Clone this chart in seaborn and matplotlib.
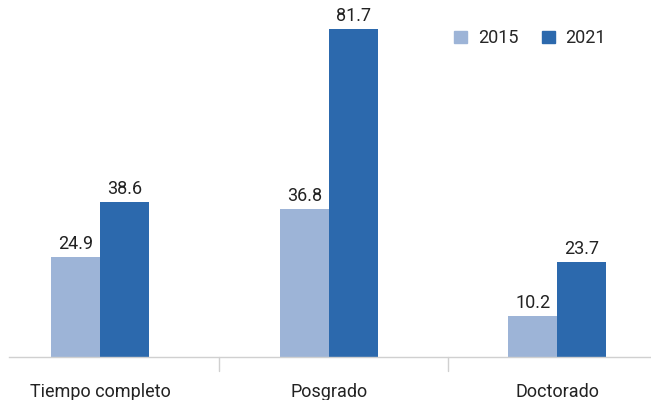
import matplotlib
matplotlib.use("Agg")
import matplotlib.pyplot as plt
import seaborn as sns
import pandas as pd
from matplotlib.patches import Patch

categories = ["Tiempo completo", "Posgrado", "Doctorado"]
years = ["2015", "2021"]
values_2015 = [24.9, 36.8, 10.2]
values_2021 = [38.6, 81.7, 23.7]
colors = ["#9db4d7", "#2c69ad"]

df = pd.DataFrame({
    "cat": categories * 2,
    "year": [years[0]] * 3 + [years[1]] * 3,
    "val": values_2015 + values_2021,
})

sns.set_theme(style="white")
plt.rcParams["font.family"] = ["Roboto", "DejaVu Sans"]

fig = plt.figure(figsize=(6.51, 4.0), dpi=100)
ax = fig.add_axes([0.0138, 0.1075, 0.9862, 0.8925])

sns.barplot(data=df, x="cat", y="val", hue="year", palette=colors,
            width=0.43, gap=0, saturation=1, ax=ax, legend=False,
            linewidth=0, edgecolor="none")

for cont in ax.containers:
    ax.bar_label(cont, fmt="%.1f", padding=3, fontsize=13, color="#222222")

ax.set_xlim(-0.4, 2.41)
ax.set_ylim(0, 88.9)
ax.set_xlabel("")
ax.set_ylabel("")
ax.set_yticks([])
for s in ["left", "right", "top"]:
    ax.spines[s].set_visible(False)
ax.spines["bottom"].set_color("#d0d0d0")
ax.spines["bottom"].set_linewidth(1)

ax.set_xticks([0, 1, 2])
ax.set_xticklabels(categories, fontsize=13, color="#222222")
ax.tick_params(axis="x", length=0, pad=19)
for xb in [0.52, 1.52]:
    ax.plot([xb, xb], [0, -3.5], color="#d0d0d0", lw=1, clip_on=False)

handles = [Patch(color=c, label=y) for c, y in zip(colors, years)]
ax.legend(handles=handles, loc="upper right", bbox_to_anchor=(0.955, 0.963),
          ncol=2, frameon=False, fontsize=13, handlelength=0.7,
          handleheight=0.7, columnspacing=1.3, handletextpad=0.6)

fig.savefig("out.png", dpi=100)
